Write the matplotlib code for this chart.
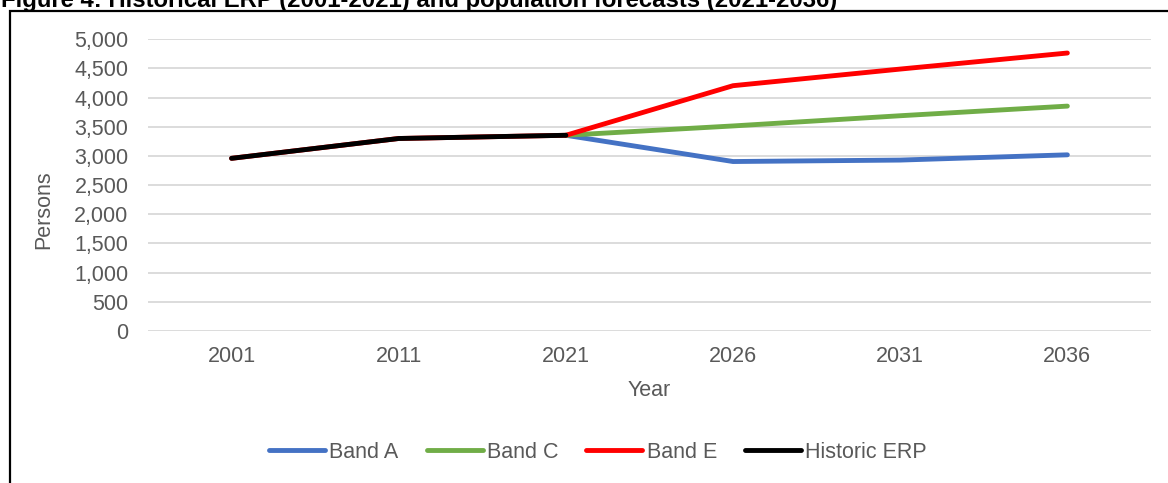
import matplotlib.pyplot as plt
from matplotlib.patches import Rectangle
from matplotlib.ticker import FuncFormatter

plt.rcParams['font.family'] = ['Liberation Sans', 'DejaVu Sans']

years = ['2001', '2011', '2021', '2026', '2031', '2036']
band_a = [None, None, 3355, 2905, 2930, 3020]
band_c = [None, None, 3355, 3515, 3690, 3855]
band_e = [2960, 3300, 3355, 4205, 4490, 4765]
historic_erp = [2960, 3300, 3355]

title = "Figure 4: Historical ERP (2001-2021) and population forecasts (2021-2036)"
grey = '#595959'

fig = plt.figure(figsize=(11.68, 4.83), dpi=100)
ax = fig.add_axes([0.1267, 0.3147, 0.8587, 0.6039])

x = list(range(len(years)))
lw = 3.5


def pts(vals):
    xs = [i for i, v in zip(x, vals) if v is not None]
    ys = [v for v in vals if v is not None]
    return xs, ys


ax.plot(*pts(band_a), color='#4472C4', lw=lw, label='Band A', solid_capstyle='round')
ax.plot(*pts(band_c), color='#70AD47', lw=lw, label='Band C', solid_capstyle='round')
ax.plot(*pts(band_e), color='#FF0000', lw=lw, label='Band E', solid_capstyle='round')
ax.plot(x[:len(historic_erp)], historic_erp, color='black', lw=lw, label='Historic ERP',
        solid_capstyle='round')

ax.set_xlim(-0.5, len(years) - 0.5)
ax.set_ylim(0, 5000)
ax.set_xticks(x)
ax.set_xticklabels(years)
ax.set_yticks(range(0, 5001, 500))
ax.yaxis.set_major_formatter(FuncFormatter(lambda v, p: f'{int(v):,}'))
ax.grid(axis='y', color='#d9d9d9', lw=1.3)
ax.set_axisbelow(True)
for s in ax.spines.values():
    s.set_visible(False)
ax.tick_params(axis='both', length=0, labelsize=15.5, labelcolor=grey)
ax.tick_params(axis='y', pad=14)
ax.tick_params(axis='x', pad=11)

ax.set_xlabel('Year', fontsize=15.5, color=grey, labelpad=9)
ax.set_ylabel('Persons', fontsize=15.5, color=grey)
ax.yaxis.set_label_coords(-0.093, 0.415)

fig.legend(loc='center', bbox_to_anchor=(0.512, 0.064), ncol=4, frameon=False,
           fontsize=15.5, labelcolor=grey, handlelength=2.6, handletextpad=0.2,
           columnspacing=1.3)

# frame around the chart, open at the right and bottom edges
frame_top = 1 - 11 / 483
fig.add_artist(Rectangle((9.5 / 1168, -0.1), 1.2, frame_top + 0.1,
                         transform=fig.transFigure, fill=False, edgecolor='black',
                         lw=1.6, clip_on=False))

fig.text(0.001, 1 - 7 / 483, title, fontsize=17.2, fontweight='bold', va='baseline',
         ha='left', color='black')

fig.savefig('out.png', dpi=100)
